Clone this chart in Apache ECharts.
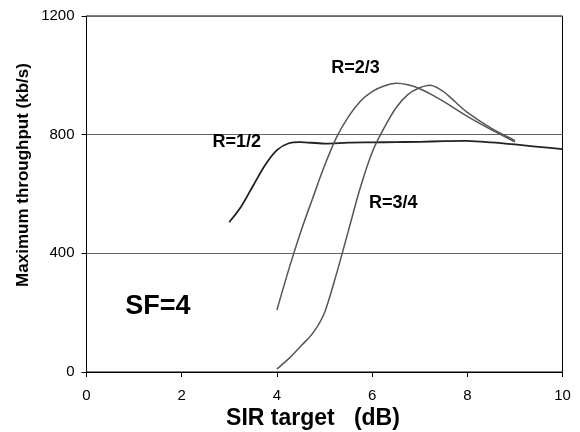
<!DOCTYPE html>
<html>
<head>
<meta charset="utf-8">
<script src="https://cdn.jsdelivr.net/npm/echarts@6/dist/echarts.min.js"></script>
<style>
  html, body { margin: 0; padding: 0; background: #fff; }
  #chart { width: 580px; height: 432px; }
</style>
</head>
<body>
<div id="chart"></div>
<script>
// Maximum throughput vs SIR target, spreading factor 4, three coding rates
var rHalf = [
  [3, 505], [3.25, 558], [3.5, 628], [3.75, 697], [4, 748], [4.25, 771],
  [4.5, 775], [5, 770], [5.5, 773], [6, 774], [6.5, 775], [7, 776],
  [7.5, 778], [8, 779], [8.5, 774], [9, 767], [9.5, 759], [10, 751]
];
var rTwoThirds = [
  [4, 209], [4.25, 346], [4.5, 472], [4.75, 585], [5, 695], [5.25, 790],
  [5.5, 860], [5.75, 912], [6, 945], [6.25, 964], [6.5, 973], [6.75, 968],
  [7, 955], [7.25, 935], [7.5, 912], [7.75, 887], [8, 862], [8.5, 817], [9, 776]
];
var rThreeQuarters = [
  [4, 10], [4.25, 45], [4.5, 87], [4.75, 130], [5, 200], [5.25, 330],
  [5.5, 475], [5.75, 620], [6, 740], [6.25, 822], [6.5, 890], [6.75, 935],
  [7, 958], [7.25, 966], [7.5, 945], [7.75, 910], [8, 875],
  [8.5, 822], [9, 780]
];
var xTicks = [0, 2, 4, 6, 8, 10];
var yTicks = [0, 400, 800, 1200];

// curve annotations, placed in data coordinates
var notes = [
  { text: 'R=1/2', at: [3.155, 775], size: 18 },
  { text: 'R=2/3', at: [5.65, 1026], size: 18 },
  { text: 'R=3/4', at: [6.445, 569], size: 18 },
  { text: 'SF=4', at: [1.5, 221], size: 27 }
];

var FONT = '"Liberation Sans", Arial, Helvetica, sans-serif';
var chart = echarts.init(document.getElementById('chart'));

// Smooth curve through the points (Catmull-Rom as cubic Beziers), in pixel space
function splinePath(pts) {
  var d = 'M' + pts[0][0] + ' ' + pts[0][1];
  for (var i = 0; i < pts.length - 1; i++) {
    var p0 = pts[Math.max(i - 1, 0)], p1 = pts[i], p2 = pts[i + 1],
        p3 = pts[Math.min(i + 2, pts.length - 1)];
    var c1x = p1[0] + (p2[0] - p0[0]) / 6, c1y = p1[1] + (p2[1] - p0[1]) / 6;
    var c2x = p2[0] - (p3[0] - p1[0]) / 6, c2y = p2[1] - (p3[1] - p1[1]) / 6;
    d += ' C' + c1x + ' ' + c1y + ' ' + c2x + ' ' + c2y + ' ' + p2[0] + ' ' + p2[1];
  }
  return d;
}

function curve(name, data, color, width) {
  return {
    name: name, type: 'custom', data: data,
    encode: { x: 0, y: 1 },
    renderItem: function (params, api) {
      if (params.dataIndex !== 0) return null;
      var pts = data.map(function (p) { return api.coord(p); });
      return {
        type: 'path',
        shape: { pathData: splinePath(pts) },
        style: { stroke: color, lineWidth: width, fill: null }
      };
    }
  };
}

chart.setOption({
  animation: false,
  backgroundColor: '#fff',
  grid: {
    left: 86.5, right: 17.5, top: 16, bottom: 60,
    show: true, borderColor: '#000', borderWidth: 1
  },
  xAxis: {
    type: 'value', min: xTicks[0], max: xTicks[xTicks.length - 1], interval: 2,
    axisLine: { lineStyle: { color: '#000', width: 1 } },
    axisTick: { show: true, length: 5, lineStyle: { color: '#000' } },
    axisLabel: { color: '#000', fontSize: 15, fontFamily: FONT, margin: 16,
                 formatter: function (v) { return String(v); } },
    splitLine: { show: false }
  },
  yAxis: {
    type: 'value', min: yTicks[0], max: yTicks[yTicks.length - 1], interval: 400,
    axisLine: { show: true, lineStyle: { color: '#000', width: 1 } },
    axisTick: { show: true, length: 5, lineStyle: { color: '#000' } },
    axisLabel: { color: '#000', fontSize: 15, fontFamily: FONT, margin: 12,
                 formatter: function (v) { return String(v); } },
    splitLine: { show: true, lineStyle: { color: '#666', width: 1 } }
  },
  series: [
    curve('R=1/2', rHalf, '#222', 1.8),
    curve('R=2/3', rTwoThirds, '#555', 1.5),
    curve('R=3/4', rThreeQuarters, '#555', 1.5)
  ]
});

var graphics = notes.map(function (n) {
  var p = chart.convertToPixel({ gridIndex: 0 }, n.at);
  return {
    type: 'text', x: p[0], y: p[1],
    style: { text: n.text, fill: '#000', font: 'bold ' + n.size + 'px ' + FONT,
             textAlign: 'center', textVerticalAlign: 'middle' }
  };
});
graphics.push({
  type: 'text', x: 313, y: 419,
  style: { text: 'SIR target   (dB)', fill: '#000', font: 'bold 23px ' + FONT,
           textAlign: 'center', textVerticalAlign: 'middle' }
});
graphics.push({
  type: 'text', x: 23, y: 175, rotation: Math.PI / 2,
  style: { text: 'Maximum throughput (kb/s)', fill: '#000', font: 'bold 17px ' + FONT,
           textAlign: 'center', textVerticalAlign: 'middle' }
});
chart.setOption({ graphic: graphics });
</script>
</body>
</html>
